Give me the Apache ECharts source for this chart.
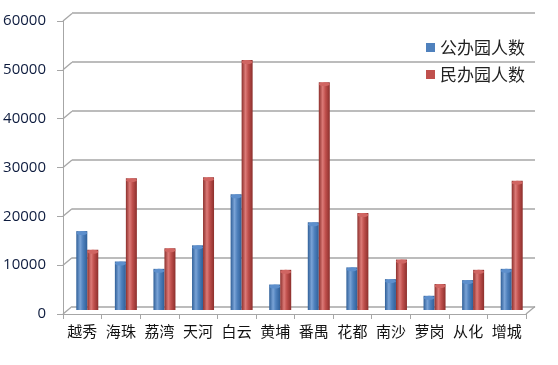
<!DOCTYPE html>
<html><head><meta charset="utf-8">
<script src="https://cdn.jsdelivr.net/npm/echarts@6/dist/echarts.min.js"></script>
<style>html,body{margin:0;padding:0;background:#fff}#c{width:558px;height:365px}</style>
</head><body><div id="c"></div>
<script>
var categories = ['越秀','海珠','荔湾','天河','白云','黄埔','番禺','花都','南沙','萝岗','从化','增城'];
var publicKids = [16100, 9900, 8400, 13200, 23600, 5200, 17900, 8700, 6300, 2900, 6100, 8400];
var privateKids = [12300, 26900, 12600, 27100, 51000, 8200, 46500, 19800, 10300, 5300, 8200, 26400];
var yTicks = [0, 10000, 20000, 30000, 40000, 50000, 60000];
var seriesNames = ['公办园人数', '民办园人数'];

var FONT = '"Noto Sans CJK SC", "Microsoft YaHei", sans-serif';
var LINE = '#a6a6a6';
function cyl(dark, mid, light) {
  return new echarts.graphic.LinearGradient(0, 0, 1, 0, [
    {offset: 0, color: dark}, {offset: 0.35, color: light}, {offset: 0.6, color: mid}, {offset: 1, color: dark}
  ]);
}
var blue = cyl('#2f5f98', '#4f81bd', '#7aa3d6');
var red = cyl('#8c2f2c', '#c0504d', '#dc7a77');

var chart = echarts.init(document.getElementById('c'), null, {renderer: 'canvas'});
var yMax = yTicks[yTicks.length - 1];
chart.setOption({
  animation: false,
  legend: {
    orient: 'vertical', left: 421, top: 34, itemGap: 10,
    itemWidth: 9, itemHeight: 9, icon: 'rect',
    textStyle: {fontFamily: FONT, fontSize: 17, color: '#222'},
    data: [
      {name: seriesNames[0], itemStyle: {color: '#4f81bd'}},
      {name: seriesNames[1], itemStyle: {color: '#c0504d'}}
    ]
  },
  grid: [
    {left: 72, right: 23, top: 13, bottom: 58},
    {left: 63, right: 32, top: 21, bottom: 51},
    {left: 68, right: 27, top: 16, bottom: 55}
  ],
  xAxis: [
    {gridIndex: 0, type: 'category', data: categories, show: false},
    {gridIndex: 1, type: 'category', data: categories,
      axisLine: {lineStyle: {color: LINE, width: 1}},
      axisTick: {show: true, interval: 0, length: 5, lineStyle: {color: LINE}},
      axisLabel: {interval: 0, fontFamily: FONT, fontSize: 15, color: '#111', margin: 10}},
    {gridIndex: 2, type: 'category', data: categories, show: false},
    {gridIndex: 1, type: 'value', min: 0, max: 1, show: false}
  ],
  yAxis: [
    {gridIndex: 0, type: 'value', min: 0, max: yMax, interval: 10000,
      axisLabel: {show: false}, axisLine: {show: false}, axisTick: {show: false},
      splitLine: {lineStyle: {color: LINE, width: 1.5}}},
    {gridIndex: 1, type: 'value', min: 0, max: yMax, interval: 10000,
      axisLine: {show: true, lineStyle: {color: LINE}},
      axisTick: {show: true, length: 6, lineStyle: {color: LINE}},
      splitLine: {show: false},
      axisLabel: {fontFamily: '"Open Sans", "DejaVu Sans", sans-serif', fontSize: 15, color: '#0d1b3e', margin: 17,
        formatter: function (v) { return String(v); }}},
    {gridIndex: 2, type: 'value', min: 0, max: yMax, show: false}
  ],
  series: [
    {name: seriesNames[0], type: 'bar', xAxisIndex: 2, yAxisIndex: 2, data: publicKids,
      barWidth: 11, barGap: '0%', itemStyle: {color: blue}, z: 3},
    {name: seriesNames[1], type: 'bar', xAxisIndex: 2, yAxisIndex: 2, data: privateKids,
      barWidth: 11, barGap: '0%', itemStyle: {color: red}, z: 3},
    {name: seriesNames[0] + 'cap', type: 'pictorialBar', xAxisIndex: 2, yAxisIndex: 2, data: publicKids,
      symbol: 'circle', symbolSize: [11, 4], symbolPosition: 'end', symbolOffset: ['-50%', 0],
      itemStyle: {color: '#5d8fcc'}, z: 4, legendHoverLink: false, silent: true},
    {name: seriesNames[1] + 'cap', type: 'pictorialBar', xAxisIndex: 2, yAxisIndex: 2, data: privateKids,
      symbol: 'circle', symbolSize: [11, 4], symbolPosition: 'end', symbolOffset: ['50%', 0],
      itemStyle: {color: '#d06562'}, z: 4, legendHoverLink: false, silent: true},
    {type: 'custom', xAxisIndex: 3, yAxisIndex: 1, silent: true, z: 1,
      data: yTicks.map(function (v) { return [0, v]; }),
      renderItem: function (params, api) {
        var p = api.coord([0, api.value(1)]);
        var children = [{type: 'line', shape: {x1: p[0], y1: p[1], x2: p[0] + 9, y2: p[1] - 7.5},
          style: {stroke: LINE, lineWidth: 1.3}}];
        if (api.value(1) === 0) {
          var q = api.coord([1, 0]);
          children.push({type: 'line', shape: {x1: q[0], y1: q[1], x2: q[0] + 9, y2: q[1] - 7.5},
            style: {stroke: LINE, lineWidth: 1.3}});
        }
        return {type: 'group', children: children};
      }}
  ]
});
</script></body></html>
